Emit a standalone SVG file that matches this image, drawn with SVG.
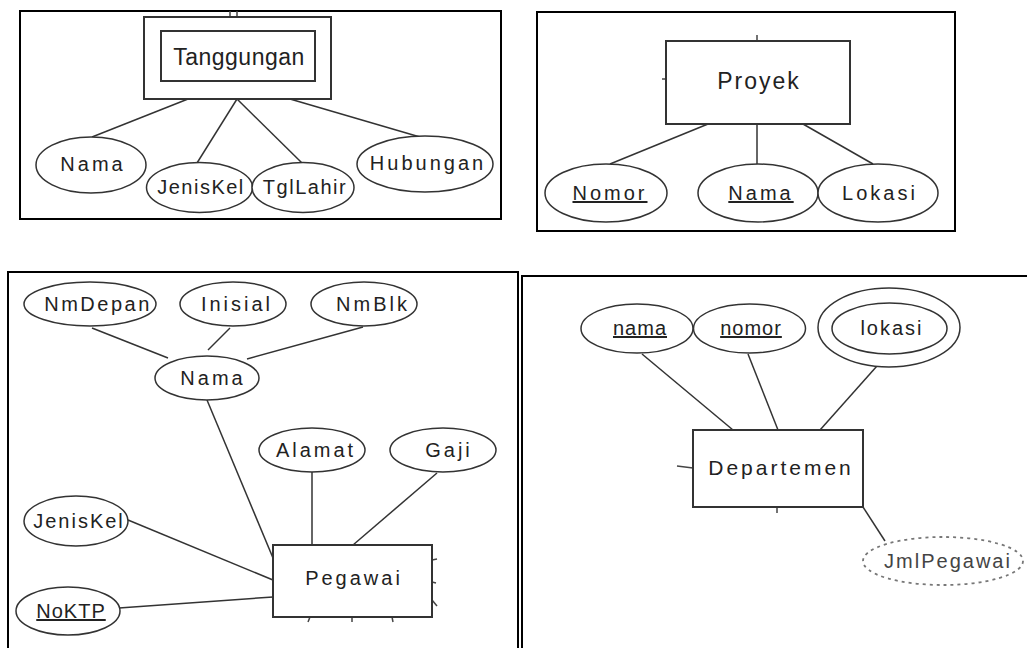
<svg xmlns="http://www.w3.org/2000/svg" width="1027" height="648" viewBox="0 0 1027 648">
<style>
.frame{fill:none;stroke:#000;stroke-width:2}
.ent{fill:#fff;stroke:#333;stroke-width:2}
.attr{fill:#fff;stroke:#333;stroke-width:1.5}
.der{fill:#fff;stroke:#777;stroke-width:1.8;stroke-dasharray:3 4}
.ln{stroke:#333;stroke-width:1.5;fill:none}
.stub{stroke:#444;stroke-width:1.5;fill:none}
text{font-family:"Liberation Sans",Arial,sans-serif;fill:#222;text-anchor:middle}
.t{font-size:20px;letter-spacing:3px}
.u{text-decoration:underline}
</style>
<rect width="1027" height="648" fill="#fff"/>
<g id="frames">
<rect class="frame" x="20" y="11" width="481" height="208"/>
<rect class="frame" x="537" y="12" width="418" height="219"/>
<path class="frame" d="M8 649 V272 H518 V649"/>
<path class="frame" d="M522 649 V276 H1028"/>
</g>
<g id="connectors">
<line class="ln" x1="188" y1="99" x2="92" y2="137"/>
<line class="ln" x1="237" y1="99" x2="197" y2="163"/>
<line class="ln" x1="237" y1="99" x2="302" y2="163"/>
<line class="ln" x1="290" y1="99" x2="420" y2="137"/>
<line class="ln" x1="708" y1="124" x2="610" y2="164"/>
<line class="ln" x1="757" y1="124" x2="757" y2="164"/>
<line class="ln" x1="803" y1="124" x2="873" y2="164"/>
<line class="ln" x1="92" y1="328" x2="168" y2="358"/>
<line class="ln" x1="230" y1="328" x2="208" y2="350"/>
<line class="ln" x1="363" y1="327" x2="247" y2="359"/>
<line class="ln" x1="207" y1="400" x2="273" y2="558"/>
<line class="ln" x1="312" y1="472" x2="312" y2="545"/>
<line class="ln" x1="437" y1="473" x2="353" y2="545"/>
<line class="ln" x1="128" y1="520" x2="273" y2="580"/>
<line class="ln" x1="119" y1="608" x2="273" y2="597"/>
<line class="ln" x1="642" y1="354" x2="733" y2="430"/>
<line class="ln" x1="748" y1="354" x2="778" y2="430"/>
<line class="ln" x1="885" y1="357" x2="820" y2="430"/>
<line class="ln" x1="863" y1="507" x2="885" y2="541"/>
<!-- relationship stubs -->
<line class="stub" x1="230" y1="11" x2="230" y2="17"/>
<line class="stub" x1="237" y1="11" x2="237" y2="17"/>
<line class="stub" x1="757" y1="35" x2="757" y2="41"/>
<line class="stub" x1="662" y1="79" x2="666" y2="79"/>
<line class="stub" x1="432" y1="560" x2="437" y2="559"/>
<line class="stub" x1="432" y1="582" x2="436" y2="583"/>
<line class="stub" x1="432" y1="600" x2="437" y2="606"/>
<line class="stub" x1="310" y1="617" x2="308" y2="622"/>
<line class="stub" x1="352" y1="617" x2="352" y2="622"/>
<line class="stub" x1="392" y1="617" x2="393" y2="622"/>
<line class="stub" x1="677" y1="466" x2="693" y2="468"/>
<line class="stub" x1="777" y1="507" x2="777" y2="513"/>
</g>
<g id="Tanggungan">
<rect class="ent" x="144" y="17" width="187" height="82"/>
<rect class="ent" x="161" y="31" width="154" height="50"/>
<text x="239" y="65" style="font-size:23px;letter-spacing:0.5px">Tanggungan</text>
</g>
<g id="T_Nama"><ellipse class="attr" cx="91" cy="165" rx="55" ry="28"/><text class="t" x="93" y="171">Nama</text></g>
<g id="T_JenisKel"><ellipse class="attr" cx="199.5" cy="187.5" rx="53" ry="25"/><text class="t" x="201" y="194" style="letter-spacing:1.5px">JenisKel</text></g>
<g id="T_TglLahir"><ellipse class="attr" cx="303" cy="187.5" rx="51" ry="25"/><text class="t" x="305" y="194" style="letter-spacing:1.5px">TglLahir</text></g>
<g id="T_Hubungan"><ellipse class="attr" cx="425" cy="164" rx="68" ry="28"/><text class="t" x="428" y="170">Hubungan</text></g>

<g id="Proyek">
<rect class="ent" x="666" y="41" width="184" height="83"/>
<text x="759" y="89" style="font-size:23px;letter-spacing:2px">Proyek</text>
</g>
<g id="P_Nomor"><ellipse class="attr" cx="606" cy="193" rx="61" ry="29"/><text class="t u" x="610" y="200">Nomor</text></g>
<g id="P_Nama"><ellipse class="attr" cx="758" cy="193" rx="60" ry="29"/><text class="t u" x="761" y="200">Nama</text></g>
<g id="P_Lokasi"><ellipse class="attr" cx="878" cy="193" rx="60" ry="29"/><text class="t" x="880" y="200">Lokasi</text></g>

<g id="Pegawai">
<rect class="ent" x="273" y="545" width="159" height="72"/>
<text class="t" x="354" y="585">Pegawai</text>
</g>
<g id="G_NmDepan"><ellipse class="attr" cx="90" cy="304" rx="66" ry="22"/><text class="t" x="98" y="311" style="letter-spacing:2.5px">NmDepan</text></g>
<g id="G_Inisial"><ellipse class="attr" cx="233" cy="304" rx="53" ry="22"/><text class="t" x="237" y="311">Inisial</text></g>
<g id="G_NmBlk"><ellipse class="attr" cx="364" cy="304" rx="53" ry="22"/><text class="t" x="373" y="311">NmBlk</text></g>
<g id="G_Nama"><ellipse class="attr" cx="207" cy="378" rx="52" ry="22"/><text class="t" x="213" y="385">Nama</text></g>
<g id="G_Alamat"><ellipse class="attr" cx="312" cy="450" rx="53" ry="22"/><text class="t" x="316" y="457">Alamat</text></g>
<g id="G_Gaji"><ellipse class="attr" cx="443" cy="450" rx="53" ry="22"/><text class="t" x="449" y="457">Gaji</text></g>
<g id="G_JenisKel"><ellipse class="attr" cx="76" cy="521" rx="52" ry="25"/><text class="t" x="79" y="528" style="letter-spacing:2px">JenisKel</text></g>
<g id="G_NoKTP"><ellipse class="attr" cx="68" cy="611" rx="52" ry="24"/><text class="t u" x="71" y="618" style="letter-spacing:1px">NoKTP</text></g>

<g id="Departemen">
<rect class="ent" x="693" y="430" width="170" height="77"/>
<text class="t" x="781" y="475" style="font-size:21px">Departemen</text>
</g>
<g id="D_nama"><ellipse class="attr" cx="637" cy="328.5" rx="56" ry="24.5"/><text class="t u" x="640" y="335" style="letter-spacing:1px">nama</text></g>
<g id="D_nomor"><ellipse class="attr" cx="749.5" cy="328.5" rx="56" ry="24.5"/><text class="t u" x="751" y="335" style="letter-spacing:1px">nomor</text></g>
<g id="D_lokasi">
<ellipse class="attr" cx="889" cy="327.5" rx="71" ry="39.5"/>
<ellipse class="attr" cx="889.5" cy="328.5" rx="57.5" ry="25.5"/>
<text class="t" x="892" y="335" style="letter-spacing:2px">lokasi</text>
</g>
<g id="D_JmlPegawai"><ellipse class="der" cx="943" cy="561" rx="80" ry="24"/><text class="t" x="948" y="568" style="letter-spacing:2px;fill:#444">JmlPegawai</text></g>
</svg>
